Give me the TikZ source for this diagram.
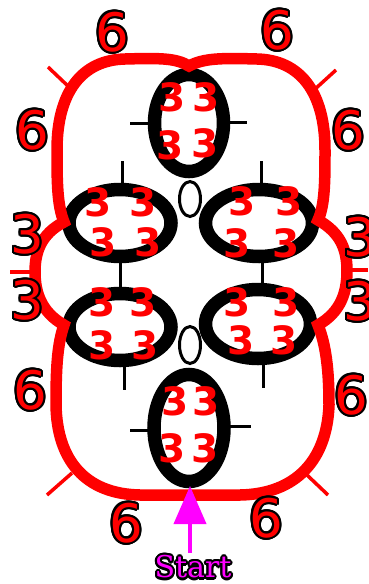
\documentclass[tikz,border=0pt]{standalone}
\usepackage{fontspec}
\setmainfont{DejaVu Sans}
\newfontfamily\serifst{DejaVu Serif}
\usetikzlibrary{arrows.meta}
\definecolor{rd}{RGB}{255,0,0}
\definecolor{mg}{RGB}{255,0,255}
\newdimen\olw \olw=2.1pt
\newcommand\olc[2]{\rlap{\kern#1\olw\raise#2\olw\copy0}}
\newcommand\olt[2]{{\setbox0=\hbox{#2}\color{black}%
  \olc{1}{0}\olc{-1}{0}\olc{0}{1}\olc{0}{-1}%
  \olc{.7}{.7}\olc{-.7}{.7}\olc{.7}{-.7}\olc{-.7}{-.7}%
  \olc{.92}{.38}\olc{-.92}{.38}\olc{.92}{-.38}\olc{-.92}{-.38}%
  \olc{.38}{.92}\olc{-.38}{.92}\olc{.38}{-.92}\olc{-.38}{-.92}%
  \color{#1}\box0}}
\tikzset{
  ring/.style={draw=black, line width=13.5pt},
  smallring/.style={draw=black, line width=3pt},
  blacktick/.style={draw=black, line width=3pt},
  redtick/.style={draw=rd, line width=3.5pt},
  redline/.style={draw=rd, line width=11.5pt, line join=miter, miter limit=4},
  bignum/.style={inner sep=0pt, font=\fontsize{53}{53}\selectfont},
  innum/.style={inner sep=0pt, text=rd, font=\bfseries\fontsize{39}{39}\selectfont},
  startlbl/.style={inner sep=0pt, font=\serifst\fontsize{30}{30}\selectfont},
  startarrow/.style={draw=mg, line width=4pt, -{Triangle[length=38pt,width=32pt]}},
}
\begin{document}
\begin{tikzpicture}[x=1pt,y=-1pt]
\useasboundingbox (0,0) rectangle (368,584);
% ellipse centres
\coordinate (T) at (189,123);
\coordinate (B) at (189,428);
\coordinate (UL) at (120,223);
\coordinate (LL) at (120,327);
\coordinate (UR) at (259,223);
\coordinate (LR) at (258,324);
\coordinate (ST) at (190,199);
\coordinate (SB) at (190,345);
% black rings
\draw[ring] (T) ellipse [x radius=34.5pt, y radius=48.5pt];
\draw[ring] (B) ellipse [x radius=35pt, y radius=53.5pt];
\draw[ring] (UL) ellipse [x radius=51pt, y radius=33.5pt];
\draw[ring] (LL) ellipse [x radius=51pt, y radius=33.5pt];
\draw[ring] (UR) ellipse [x radius=53.5pt, y radius=33.5pt];
\draw[ring] (LR) ellipse [x radius=52.5pt, y radius=34.5pt];
\draw[smallring] (ST) ellipse [x radius=10.5pt, y radius=17.5pt];
\draw[smallring] (SB) ellipse [x radius=10.5pt, y radius=18.5pt];
% black ticks
\coordinate (ta1) at (130,123); \coordinate (ta2) at (150,123);
\coordinate (tb1) at (228,122); \coordinate (tb2) at (247,122);
\coordinate (tc1) at (130,430); \coordinate (tc2) at (150,430);
\coordinate (td1) at (230,426); \coordinate (td2) at (251,426);
\coordinate (te1) at (122,161); \coordinate (te2) at (122,184);
\coordinate (tf1) at (120,262); \coordinate (tf2) at (120,288);
\coordinate (tg1) at (124,366); \coordinate (tg2) at (124,390);
\coordinate (th1) at (261,161); \coordinate (th2) at (261,184);
\coordinate (ti1) at (262,262); \coordinate (ti2) at (262,283);
\coordinate (tj1) at (263,364); \coordinate (tj2) at (263,388);
\foreach \p in {a,b,c,d,e,f,g,h,i,j} \draw[blacktick] (t\p1) -- (t\p2);
% red outer curve
\coordinate (cusp) at (189,66);
\coordinate (jUL) at (64,222);
\coordinate (jLL) at (64,325);
\coordinate (jUR) at (318,220);
\coordinate (jLR) at (318,325);
\draw[redline] (cusp) .. controls (176,58) and (160,58) .. (125,59)
  .. controls (82,60) and (57,92) .. (57,150)
  .. controls (57,180) and (57,205) .. (jUL)
  .. controls (41,234) and (35,252) .. (35,272)
  .. controls (35,292) and (41,312) .. (jLL)
  .. controls (57,345) and (56,370) .. (56,405)
  .. controls (57,460) and (85,494) .. (140,495)
  -- (240,495)
  .. controls (296,494) and (327,460) .. (329,405)
  .. controls (329,370) and (326,345) .. (jLR)
  .. controls (341,312) and (347,292) .. (347,271)
  .. controls (347,250) and (341,233) .. (jUR)
  .. controls (325,205) and (325,180) .. (325,150)
  .. controls (325,92) and (300,60) .. (257,59)
  .. controls (222,58) and (204,58) .. (cusp) -- cycle;
% red ticks
\coordinate (ra1) at (48,67); \coordinate (ra2) at (69,87);
\coordinate (rb1) at (314,90); \coordinate (rb2) at (336,70);
\coordinate (rc1) at (47,495); \coordinate (rc2) at (72,473);
\coordinate (rd1) at (307,475); \coordinate (rd2) at (328,495);
\coordinate (re1) at (10,272); \coordinate (re2) at (33,272);
\coordinate (rf1) at (349,270); \coordinate (rf2) at (368,270);
\foreach \p in {a,b,c,d,e,f} \draw[redtick] (r\p1) -- (r\p2);
% inner 3s
\node[innum] (t1) at (172,97) {3};  \node[innum] (t2) at (206,97) {3};
\node[innum] (t3) at (170,145) {3}; \node[innum] (t4) at (205,143) {3};
\node[innum] (b1) at (175,401) {3}; \node[innum] (b2) at (206,401) {3};
\node[innum] (b3) at (172,448) {3}; \node[innum] (b4) at (205,448) {3};
\node[innum] (ul1) at (98,202) {3};  \node[innum] (ul2) at (143,202) {3};
\node[innum] (ul3) at (103,242) {3}; \node[innum] (ul4) at (148,242) {3};
\node[innum] (ll1) at (102,302) {3}; \node[innum] (ll2) at (143,302) {3};
\node[innum] (ll3) at (102,345) {3}; \node[innum] (ll4) at (145,345) {3};
\node[innum] (ur1) at (242,201) {3}; \node[innum] (ur2) at (289,201) {3};
\node[innum] (ur3) at (237,243) {3}; \node[innum] (ur4) at (286,243) {3};
\node[innum] (lr1) at (237,302) {3}; \node[innum] (lr2) at (286,302) {3};
\node[innum] (lr3) at (241,340) {3}; \node[innum] (lr4) at (284,340) {3};
% outer labels
\node[bignum] (o1) at (112,32) {\olt{rd}{6}};
\node[bignum] (o2) at (277,30) {\olt{rd}{6}};
\node[bignum] (o3) at (32,130) {\olt{rd}{6}};
\node[bignum] (o4) at (348,130) {\olt{rd}{6}};
\node[bignum] (o5) at (27,234) {\olt{rd}{3}};
\node[bignum] (o6) at (27,300) {\olt{rd}{3}};
\node[bignum] (o7) at (360,237) {\olt{rd}{3}};
\node[bignum] (o8) at (360,301) {\olt{rd}{3}};
\node[bignum] (o9) at (30,390) {\olt{rd}{6}};
\node[bignum] (o10) at (351,395) {\olt{rd}{6}};
\node[bignum] (o11) at (126,523) {\olt{rd}{6}};
\node[bignum] (o12) at (266,518) {\olt{rd}{6}};
% start arrow
\node[startlbl] (start) at (193,567) {\olt{mg}{Start}};
\coordinate (arrtip) at (190,486);
\coordinate (arrbase) at (190,553);
\draw[startarrow] (arrbase) -- (arrtip);
\end{tikzpicture}
\end{document}
